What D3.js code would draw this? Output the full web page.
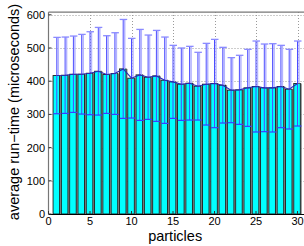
<!DOCTYPE html>
<html>
<head>
<meta charset="UTF-8">
<script src="https://d3js.org/d3.v7.min.js"></script>
<style>
  body { margin: 0; background: #fff; }
  svg { display: block; }
  text { font-family: "Liberation Sans", Arial, sans-serif; fill: #000; }
</style>
</head>
<body>
<script>
// particles 1..30
var particles = d3.range(1, 31);
// average run-time (microseconds)
var means = [417, 418, 421, 421, 424, 430, 420, 423, 437, 409, 419, 412,
             416, 403, 398, 391, 394, 385, 391, 393, 388, 373, 374, 380,
             384, 380, 380, 384, 376, 393];
// error bar half length
var errs = [115, 115, 115, 120, 125, 132, 117, 123, 149, 120, 137, 127,
            137, 130, 110, 109, 111, 102, 123, 133, 114, 98, 104, 116,
            137, 132, 133, 124, 120, 128];
var yTicks = [0, 100, 200, 300, 400, 500, 600];
var xTicks = [0, 5, 10, 15, 20, 25, 30];

var W = 304, H = 246;
var svg = d3.select("body").append("svg").attr("width", W).attr("height", H);

var x = d3.scaleLinear().domain([0, 31]).range([48.5, 48.5 + 8.3 * 31]);
var y = d3.scaleLinear().domain([0, 600]).range([214, 14.8]);
var yTop = y(608);

// dotted grid
var grid = svg.append("g").attr("stroke", "#9a9a9a").attr("stroke-width", 1)
  .attr("stroke-dasharray", "1,2");
grid.selectAll("line.gy").data(yTicks.slice(1)).enter().append("line")
  .attr("x1", x(0)).attr("x2", x(31))
  .attr("y1", function(d) { return Math.round(y(d)) + 0.5; })
  .attr("y2", function(d) { return Math.round(y(d)) + 0.5; });
grid.selectAll("line.gx").data(xTicks.slice(1)).enter().append("line")
  .attr("x1", function(d) { return Math.round(x(d)) + 0.5; })
  .attr("x2", function(d) { return Math.round(x(d)) + 0.5; })
  .attr("y1", y(0)).attr("y2", yTop);

// bars: gray strip + cyan bar
svg.selectAll("rect.shade").data(particles).enter().append("rect")
  .attr("x", function(d) { return x(d + 0.34); })
  .attr("width", x(0.18) - x(0))
  .attr("y", function(d, i) { return y(means[i]); })
  .attr("height", function(d, i) { return y(0) - y(means[i]); })
  .attr("fill", "#8c8c8c");
svg.selectAll("rect.bar").data(particles).enter().append("rect")
  .attr("x", function(d) { return x(d - 0.45); })
  .attr("width", x(0.79) - x(0))
  .attr("y", function(d, i) { return y(means[i]); })
  .attr("height", function(d, i) { return y(0) - y(means[i]); })
  .attr("fill", "#00ffff")
  .attr("stroke", "#1a1a1a").attr("stroke-width", 0.9);

// error bars (light ghost + blue line)
var eb = svg.append("g");
eb.selectAll("line.ghost").data(particles).enter().append("line")
  .attr("x1", function(d) { return x(d) + 1.5; })
  .attr("x2", function(d) { return x(d) + 1.5; })
  .attr("y1", function(d, i) { return y(means[i] + errs[i]); })
  .attr("y2", function(d, i) { return y(means[i]); })
  .attr("stroke", "#b4b4ff").attr("stroke-width", 1.5);
eb.selectAll("line.err").data(particles).enter().append("line")
  .attr("x1", function(d) { return x(d); })
  .attr("x2", function(d) { return x(d); })
  .attr("y1", function(d, i) { return y(means[i] + errs[i]); })
  .attr("y2", function(d, i) { return y(means[i] - errs[i]); })
  .attr("stroke", "#4b4bff").attr("stroke-width", 1);
eb.selectAll("line.capt").data(particles).enter().append("line")
  .attr("x1", function(d) { return x(d) - 3.5; })
  .attr("x2", function(d) { return x(d) + 4; })
  .attr("y1", function(d, i) { return y(means[i] + errs[i]); })
  .attr("y2", function(d, i) { return y(means[i] + errs[i]); })
  .attr("stroke", "#8a8aff").attr("stroke-width", 1.3);
eb.selectAll("line.capb").data(particles).enter().append("line")
  .attr("x1", function(d) { return x(d) - 3.5; })
  .attr("x2", function(d) { return x(d) + 4; })
  .attr("y1", function(d, i) { return y(means[i] - errs[i]); })
  .attr("y2", function(d, i) { return y(means[i] - errs[i]); })
  .attr("stroke", "#3c3cff").attr("stroke-width", 1.2);

// mean line
svg.append("path")
  .attr("d", d3.line().x(function(d) { return x(d); })
    .y(function(d, i) { return y(means[i]); })(particles))
  .attr("fill", "none").attr("stroke", "#2a2ab4").attr("stroke-width", 1.1);

// axes
svg.append("line").attr("x1", x(0)).attr("x2", x(0)).attr("y1", y(0)).attr("y2", yTop)
  .attr("stroke", "#777").attr("stroke-width", 1.2);
svg.append("line").attr("x1", x(0)).attr("x2", x(31)).attr("y1", yTop).attr("y2", yTop)
  .attr("stroke", "#777").attr("stroke-width", 1.2);
svg.append("line").attr("x1", x(0)).attr("x2", x(31)).attr("y1", y(0) + 0.5).attr("y2", y(0) + 0.5)
  .attr("stroke", "#000").attr("stroke-width", 1);

// ticks
svg.selectAll("line.yt").data(yTicks).enter().append("line")
  .attr("x1", x(0)).attr("x2", x(0) + 3)
  .attr("y1", function(d) { return y(d); }).attr("y2", function(d) { return y(d); })
  .attr("stroke", "#333");
svg.selectAll("line.xt").data(xTicks).enter().append("line")
  .attr("x1", function(d) { return x(d); }).attr("x2", function(d) { return x(d); })
  .attr("y1", y(0)).attr("y2", y(0) - 3)
  .attr("stroke", "#333");

svg.selectAll("text.yl").data(yTicks).enter().append("text")
  .attr("x", 45).attr("y", function(d) { return y(d) + 4; })
  .attr("text-anchor", "end").attr("font-size", 11)
  .text(function(d) { return d; });
svg.selectAll("text.xl").data(xTicks).enter().append("text")
  .attr("x", function(d) { return x(d); }).attr("y", 225)
  .attr("text-anchor", "middle").attr("font-size", 11)
  .text(function(d) { return d; });

svg.append("text").attr("x", x(15.5) - 2).attr("y", 240.5)
  .attr("text-anchor", "middle").attr("font-size", 14.5)
  .text("particles");
svg.append("text")
  .attr("transform", "translate(19," + 112 + ") rotate(-90)")
  .attr("text-anchor", "middle").attr("font-size", 14.5)
  .text("average run\u2212time (microseconds)");
</script>
</body>
</html>
